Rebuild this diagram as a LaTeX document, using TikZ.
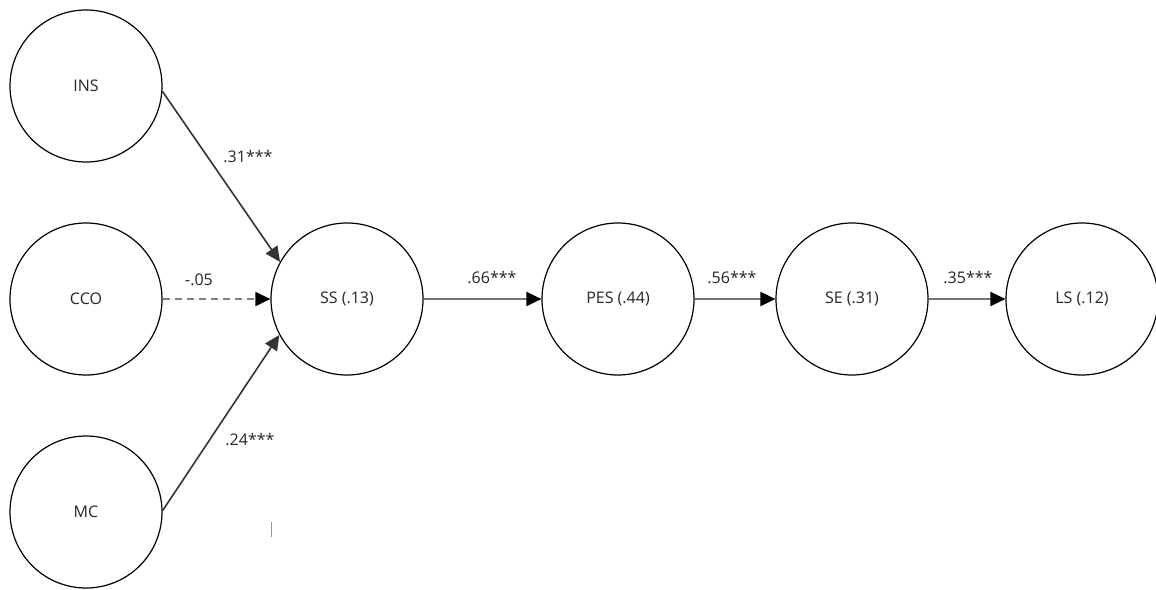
\documentclass[tikz,border=0pt]{standalone}
\usepackage{fontspec}
\setmainfont{Open Sans}
\usetikzlibrary{arrows.meta}
\begin{document}
\begin{tikzpicture}[x=1pt,y=-1pt,
  latent/.style={circle,draw=black,line width=1.2pt,minimum size=152pt,inner sep=0pt,font=\fontsize{16}{19}\selectfont,text=black!85},
  path/.style={line width=1.6pt,draw=black!80,-{Triangle[length=15pt,width=14pt]}},
  hpath/.style={line width=2pt,draw=black!55,-{Triangle[length=15pt,width=14pt,fill=black,color=black]}},
  dpath/.style={line width=2pt,draw=black!50,dash pattern=on 7pt off 5pt,-{Triangle[length=15pt,width=14pt,fill=black,color=black]}},
  coef/.style={font=\fontsize{16}{19}\selectfont,text=black!85,inner sep=0pt}]
\path[use as bounding box,fill=white] (0,0) rectangle (1156,589);
\node[latent] (INS) at (86,86) {INS};
\node[latent] (CCO) at (86,299) {CCO};
\node[latent] (MC) at (86,512) {MC};
\node[latent] (SS) at (347,299) {SS (.13)};
\node[latent] (PES) at (618,299) {PES (.44)};
\node[latent] (SE) at (852,299) {SE (.31)};
\node[latent] (LS) at (1082,299) {LS (.12)};
\draw[path] (INS.-4.5) -- (SS.151.7);
\draw[dpath] (CCO.east) -- (SS.west);
\draw[path] (MC.1.5) -- (SS.208.3);
\draw[hpath] (SS.east) -- (PES.west);
\draw[hpath] (PES.east) -- (SE.west);
\draw[hpath] (SE.east) -- (LS.west);
\node[coef] (c1) at (248,157) {.31***};
\node[coef] (c2) at (199,280) {-.05};
\node[coef] (c3) at (250,440) {.24***};
\node[coef] (c4) at (492,278) {.66***};
\node[coef] (c5) at (732,278) {.56***};
\node[coef] (c6) at (968,278) {.35***};
\coordinate (t1) at (271,522);
\coordinate (t2) at (271,537);
\draw[black!40,line width=0.8pt] (t1) -- (t2);
\end{tikzpicture}
\end{document}
